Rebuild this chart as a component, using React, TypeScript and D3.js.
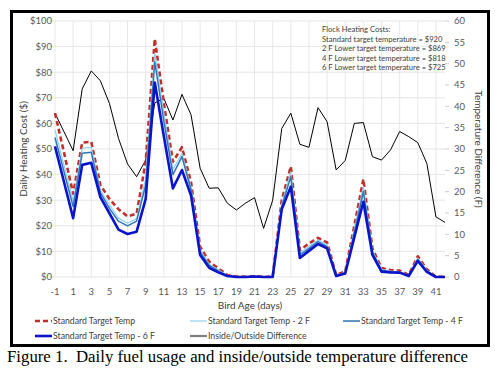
import * as d3 from "d3";

const days = d3.range(-1, 43);

const standard = [64, 48.5, 32.5, 52.5, 52.8, 36, 30.5, 26.5, 23.7, 24.7, 45, 93, 68, 45, 50.7, 37, 11.8, 6, 3.4, 0.8, 0.2, 0.1, 0.3, 0.1, 0.1, 30, 43.2, 10.5, 13.1, 15.3, 13.5, 0.8, 2.1, 20, 38.2, 11.2, 3.5, 2.7, 2.5, 0.8, 8.1, 3, 0.1, 0.1];
const minus2 = [57.5, 43.5, 29.5, 50.3, 50.7, 34, 28.2, 23, 21, 22.8, 38.5, 87.5, 64, 42, 48.3, 35, 10.6, 5, 2.8, 0.6, 0.1, 0.1, 0.2, 0, 0.1, 28.5, 41.1, 9.3, 12, 14.4, 12.5, 0.6, 1.8, 18.5, 35.3, 10.2, 3, 2.3, 2.1, 0.6, 7.4, 2.6, 0, 0];
const minus4 = [54.5, 41, 27.5, 48.3, 48.7, 33, 26.8, 21.8, 20, 21.8, 36, 84, 61, 40, 47, 34, 9.7, 4.5, 2.4, 0.5, 0.1, 0, 0.2, 0, 0, 27.5, 39.2, 8.6, 11.2, 13.8, 11.9, 0.5, 1.6, 17.2, 33.3, 9.5, 2.6, 2, 1.9, 0.5, 6.9, 2.3, 0, 0];
const minus6 = [51, 37, 23, 43.8, 44.6, 31.2, 24.9, 18.5, 16.8, 17.7, 30.5, 76, 55, 34.6, 41.8, 31.8, 8.6, 3.6, 1.8, 0.4, 0, 0, 0.2, 0, 0, 26.5, 35.3, 7.4, 10.2, 12.9, 11.2, 0.4, 1.4, 15.5, 29.4, 8.6, 2.1, 1.8, 1.7, 0.4, 6.3, 2, 0, 0];
const tempDiff = [38.4, 34, 29.6, 44.1, 48.3, 46, 40.7, 32.5, 26.5, 23.5, 27.4, 40.8, 41.9, 36.8, 42.8, 38, 25.5, 20.8, 20.9, 17.3, 15.7, 17.3, 18.6, 11.4, 18, 34.8, 38.4, 31.1, 30.4, 39.7, 36.4, 25.1, 27.3, 36, 36.2, 28.2, 27.4, 29.8, 34.1, 32.9, 31.5, 26.6, 14.1, 12.8];

const costTicks = d3.range(0, 101, 10);
const tempTicks = d3.range(0, 61, 5);
const dayTicks = d3.range(-1, 42, 2);

const notes = [
  "Flock Heating Costs:",
  "Standard target temperature = $920",
  "2 F Lower target temperature = $869",
  "4 F Lower target temperature = $818",
  "6 F Lower target temperature = $725",
];

const series = [
  { name: "Standard Target Temp", values: standard, color: "#c0302b", width: 2.6, dash: "5,3" },
  { name: "Standard Target Temp - 2 F", values: minus2, color: "#8fd0ee", width: 1.2, dash: "" },
  { name: "Standard Target Temp - 4 F", values: minus4, color: "#2e75b6", width: 1.5, dash: "" },
  { name: "Standard Target Temp - 6 F", values: minus6, color: "#0a14c8", width: 2.6, dash: "" },
];

const font = "Lato, 'Open Sans', sans-serif";

export default function App() {
  const x = d3.scaleLinear().domain([-1, 42]).range([55, 445]);
  const yCost = d3.scaleLinear().domain([0, 100]).range([277, 21]);
  const yTemp = d3.scaleLinear().domain([0, 60]).range([277, 21]);

  const costLine = (vals: number[]) =>
    d3.line<number>().x((_, i) => x(days[i])).y((v) => yCost(v))(vals) ?? "";
  const tempLine =
    d3.line<number>().x((_, i) => x(days[i])).y((v) => yTemp(v))(tempDiff) ?? "";

  const legend = [
    ...series.map((s) => ({ name: s.name, color: s.color, width: s.width, dash: s.dash })),
    { name: "Inside/Outside Difference", color: "#7f7f7f", width: 2.2, dash: "" },
  ];
  const legendPos = [
    [35, 324],
    [190, 324],
    [343, 324],
    [35, 339],
    [190, 339],
  ];

  return (
    <svg width={495} height={373} style={{ position: "absolute", left: 0, top: 0, background: "#fff" }}>
      <rect x={11.5} y={11.5} width={477} height={334} fill="#fff" stroke="#000" strokeWidth={3} />

      {/* grid */}
      {costTicks.map((t) => (
        <line key={"h" + t} x1={50} x2={445} y1={yCost(t)} y2={yCost(t)} stroke="#dedede" strokeWidth={0.8} />
      ))}
      {dayTicks.map((d) => (
        <line key={"v" + d} x1={x(d)} x2={x(d)} y1={21} y2={277} stroke="#e2e2e2" strokeWidth={0.8} />
      ))}
      {tempTicks.map((t) => (
        <line key={"rt" + t} x1={445} x2={449} y1={yTemp(t)} y2={yTemp(t)} stroke="#bfbfbf" strokeWidth={0.8} />
      ))}

      {/* axis labels */}
      <g fontFamily={font} fontSize={9.5} fill="#595959">
        {costTicks.map((t) => (
          <text key={"cl" + t} x={52} y={yCost(t) + 3.3} textAnchor="end">
            {"$" + t}
          </text>
        ))}
        {tempTicks.map((t) => (
          <text key={"tl" + t} x={454} y={yTemp(t) + 3.3}>
            {t}
          </text>
        ))}
        {dayTicks.map((d) => (
          <text key={"dl" + d} x={x(d)} y={295} textAnchor="middle">
            {d}
          </text>
        ))}
      </g>
      <g fontFamily={font} fontSize={10} fill="#404040">
        <text x={250} y={309} textAnchor="middle">Bird Age (days)</text>
        <text transform="translate(27,149) rotate(-90)" textAnchor="middle">Daily Heating Cost ($)</text>
        <text transform="translate(475,149) rotate(90)" textAnchor="middle">Temperature Difference (F)</text>
      </g>

      {/* series */}
      <path d={tempLine} fill="none" stroke="#000" strokeWidth={1} />
      {series.map((s) => (
        <path
          key={s.name}
          d={costLine(s.values)}
          fill="none"
          stroke={s.color}
          strokeWidth={s.width}
          strokeDasharray={s.dash || undefined}
          strokeLinejoin="round"
        />
      ))}

      {/* notes */}
      <g fontFamily={font} fontSize={7.6} fill="#404040">
        {notes.map((n, i) => (
          <text key={n} x={322} y={32 + i * 9.6}>
            {n}
          </text>
        ))}
      </g>

      {/* legend */}
      <g fontFamily={font} fontSize={8.7} fill="#404040">
        {legend.map((l, i) => {
          const [lx, ly] = legendPos[i];
          return (
            <g key={l.name}>
              <line
                x1={lx}
                x2={lx + 17}
                y1={ly - 3}
                y2={ly - 3}
                stroke={l.color}
                strokeWidth={l.width}
                strokeDasharray={l.dash || undefined}
              />
              <text x={lx + 18} y={ly}>
                {l.name}
              </text>
            </g>
          );
        })}
      </g>

      <text x={7} y={362} fontFamily="'Liberation Serif', 'Times New Roman', serif" fontSize={16.8} fill="#000">
        Figure 1.{"\u00a0\u00a0"}Daily fuel usage and inside/outside temperature difference
      </text>
    </svg>
  );
}
